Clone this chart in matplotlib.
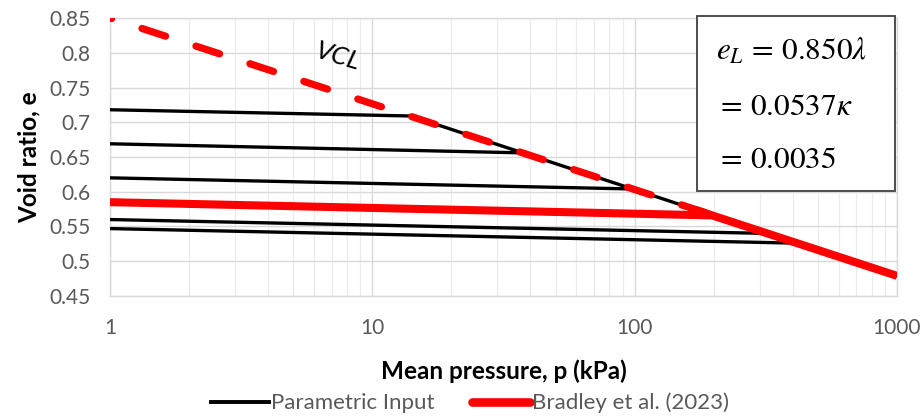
import matplotlib.pyplot as plt
from matplotlib.lines import Line2D
from matplotlib.patches import Rectangle
from matplotlib.ticker import LogLocator, NullFormatter, FixedLocator, FuncFormatter

plt.rcParams['font.family'] = ['Lato', 'DejaVu Sans']
plt.rcParams['mathtext.fontset'] = 'stix'

# 数据
# 黑色卸载线：起点 p=1 时的孔隙比，终点在 VCL 上
black_start_p = [1, 1, 1, 1, 1]
black_start_e = [0.718, 0.669, 0.620, 0.560, 0.547]
black_end_p = [14, 37, 98, 323, 418]
black_end_e = [0.709, 0.656, 0.604, 0.540, 0.526]

# 黑色 VCL
vcl_black_p = [14, 1000]
vcl_black_e = [0.709, 0.479]

# 红色虚线 VCL
vcl_dash_p = [1, 200]
vcl_dash_e = [0.850, 0.566]

# 红色实线（Bradley et al.）
red_flat_p = [1, 196]
red_flat_e = [0.585, 0.566]
red_vcl_p = [170, 1000]
red_vcl_e = [0.574, 0.479]

y_ticks = [0.45, 0.5, 0.55, 0.6, 0.65, 0.7, 0.75, 0.8, 0.85]
x_ticks = [1, 10, 100, 1000]

W, H = 924, 418
fig = plt.figure(figsize=(W / 100, H / 100), dpi=100)
ax = fig.add_axes([110 / W, 1 - 296 / H, (897 - 110) / W, (296 - 18) / H])

# 网格
ax.set_xscale('log')
ax.set_xlim(1, 1000)
ax.set_ylim(0.45, 0.85)
ax.xaxis.set_major_locator(FixedLocator(x_ticks))
ax.xaxis.set_minor_locator(LogLocator(base=10, subs=range(2, 10)))
ax.xaxis.set_minor_formatter(NullFormatter())
ax.xaxis.set_major_formatter(FuncFormatter(lambda v, _: f'{int(v)}'))
ax.yaxis.set_major_locator(FixedLocator(y_ticks))
ax.yaxis.set_major_formatter(FuncFormatter(lambda v, _: f'{v:g}'))
ax.grid(which='major', color='#d9d9d9', lw=1.0)
ax.grid(which='minor', axis='x', color='#ececec', lw=0.9)
ax.set_axisbelow(True)
for s in ax.spines.values():
    s.set_color('#d9d9d9')
    s.set_linewidth(1.0)
ax.tick_params(which='both', length=0, colors='#595959', labelsize=15)
ax.tick_params(axis='x', pad=16)
ax.tick_params(axis='y', pad=14)

# 黑色线
for p0, e0, p1, e1 in zip(black_start_p, black_start_e, black_end_p, black_end_e):
    ax.plot([p0, p1], [e0, e1], color='black', lw=2.4, solid_capstyle='butt', zorder=3)
ax.plot(vcl_black_p, vcl_black_e, color='black', lw=2.4, zorder=3)

# 红色虚线 VCL
ax.plot(vcl_dash_p, vcl_dash_e, color='#ff0000', lw=5.2,
        linestyle=(3.2, (3.44, 4.42)), dash_capstyle='round', zorder=4)

# 红色实线
ax.plot(red_flat_p, red_flat_e, color='#ff0000', lw=5.8, solid_capstyle='butt', zorder=4)
ax.plot(red_vcl_p, red_vcl_e, color='#ff0000', lw=5.8, solid_capstyle='butt', zorder=4)

ax.set_xlabel('Mean pressure, p (kPa)', fontsize=17.5, fontweight='bold', labelpad=15)
ax.set_ylabel('Void ratio, e', fontsize=17.5, fontweight='bold', labelpad=6)

# VCL 标签
ax.text(7.4, 0.795, 'VCL', fontsize=19, style='italic', rotation=-17,
        ha='center', va='center', color='black')

# 参数框
box = Rectangle((697 / W, 1 - 191 / H), (895 - 697) / W, (191 - 16) / H,
                transform=fig.transFigure, fill=True, facecolor='white',
                edgecolor='#404040', lw=1.3, zorder=5)
fig.add_artist(box)
fs = 22.5
fig.text(716 / W, 1 - 60 / H, r'$e_L\,=\,0.850\lambda$', fontsize=fs, va='baseline', zorder=6)
fig.text(716 / W, 1 - 115 / H, r'$=\,0.0537\kappa$', fontsize=fs, va='baseline', zorder=6)
fig.text(716 / W, 1 - 168 / H, r'$=\,0.0035$', fontsize=fs, va='baseline', zorder=6)

# 图例
handles = [Line2D([], [], color='black', lw=2.8),
           Line2D([], [], color='#ff0000', lw=6.2, solid_capstyle='round')]
leg = fig.legend(handles, ['Parametric Input', 'Bradley et al. (2023)'],
                 loc='center', bbox_to_anchor=(0.5 + 8 / W, 1 - 403 / H), ncol=2,
                 frameon=False, fontsize=16, handlelength=2.6, handletextpad=0.1,
                 columnspacing=1.7)
for t in leg.get_texts():
    t.set_color('#595959')

fig.savefig('out.png', dpi=100)
